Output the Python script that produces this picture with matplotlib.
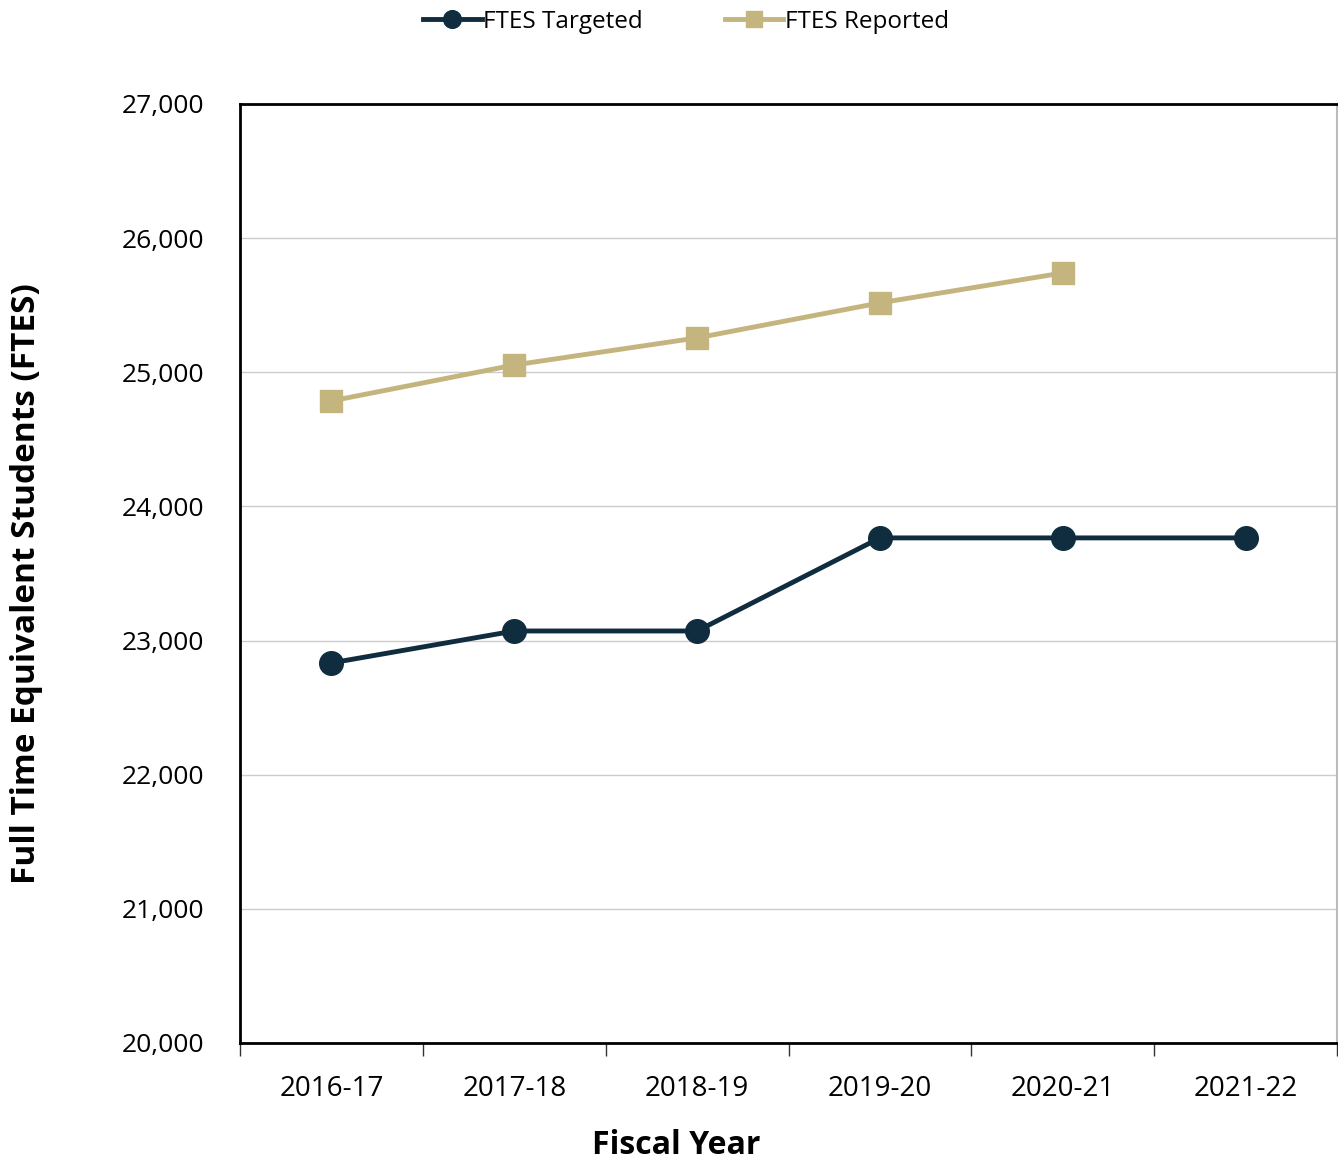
import matplotlib

matplotlib.use("Agg")
import matplotlib.pyplot as plt  # noqa: E402
from matplotlib.ticker import FuncFormatter, FixedLocator  # noqa: E402

# data
years = ["2016-17", "2017-18", "2018-19", "2019-20", "2020-21", "2021-22"]
ftes_targeted = [22833, 23071, 23071, 23765, 23765, 23765]
ftes_reported = [24786, 25054, 25256, 25517, 25740]

NAVY = "#102c3f"
TAN = "#c4b57e"

plt.rcParams["font.family"] = ["Open Sans", "DejaVu Sans"]

fig = plt.figure(figsize=(13.38, 11.64), dpi=100)
ax = fig.add_axes([0.1794, 0.1040, 0.8199, 0.8067])

xs = list(range(len(years)))
ax.plot(xs, ftes_targeted, color=NAVY, lw=3.5, marker="o", ms=17,
        label="FTES Targeted", zorder=4)
ax.plot(xs[:len(ftes_reported)], ftes_reported, color=TAN, lw=3.5, marker="s",
        ms=16, label="FTES Reported", zorder=3)

ax.set_xlim(-0.5, len(years) - 0.5)
ax.set_ylim(20000, 27000)
ax.set_yticks(range(20000, 27001, 1000))
ax.yaxis.set_major_formatter(FuncFormatter(lambda v, p: f"{int(v):,}"))
ax.set_xticks(xs)
ax.set_xticklabels(years)
ax.xaxis.set_minor_locator(FixedLocator([i - 0.5 for i in range(len(years) + 1)]))
ax.tick_params(axis="x", which="major", length=0, pad=23, labelsize=20)
ax.tick_params(axis="x", which="minor", length=9, width=1, color="#333333")
ax.tick_params(axis="y", length=0, pad=26, labelsize=19)

ax.grid(axis="y", color="#cccccc", lw=1)
ax.set_axisbelow(True)
for side in ("left", "bottom", "top"):
    ax.spines[side].set_color("black")
    ax.spines[side].set_linewidth(2)
ax.spines["right"].set_color("#bbbbbb")
ax.spines["right"].set_linewidth(1.5)

fig.text(676 / 1338, 1 - 1146 / 1164, "Fiscal Year", fontsize=23,
         fontweight="bold", ha="center", va="center")
fig.text(27 / 1338, 1 - 584 / 1164, "Full Time Equivalent Students (FTES)",
         fontsize=24, fontweight="bold", ha="center", va="center", rotation=90)

fig.legend(*ax.get_legend_handles_labels(), loc="center",
           bbox_to_anchor=(686 / 1338, 1 - 22 / 1164), ncol=2, frameon=False,
           fontsize=17.5, handlelength=2.4, handletextpad=0.05, columnspacing=3.4,
           markerscale=0.75, borderpad=0, borderaxespad=0)

fig.savefig("out.png", dpi=100)
